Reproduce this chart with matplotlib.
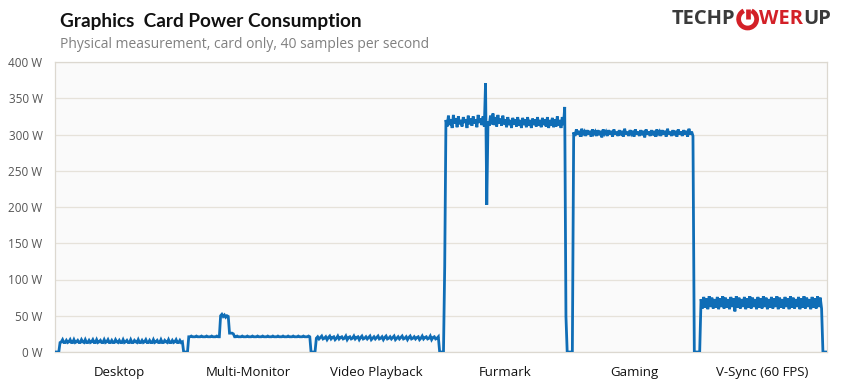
import numpy as np
import matplotlib
matplotlib.use("Agg")
import matplotlib.pyplot as plt
from matplotlib.patches import Arc

# ---------------- data ----------------
categories = ["Desktop", "Multi-Monitor", "Video Playback", "Furmark", "Gaming", "V-Sync (60 FPS)"]
y_ticks = [0, 50, 100, 150, 200, 250, 300, 350, 400]
y_tick_labels = ["0 W", "50 W", "100 W", "150 W", "200 W", "250 W", "300 W", "350 W", "400 W"]

desktop_w = [0, 0, 0, 0,
    13, 14, 17, 13, 13, 16, 13, 14, 17, 13, 13, 17, 13, 14, 16, 13, 13, 17, 14, 13,
    17, 13, 13, 16, 13, 14, 17, 13, 13, 17, 13, 14, 16, 13, 13, 17, 13, 14, 17, 13,
    13, 16, 13, 13, 17, 14, 13, 16, 13, 13, 17, 13, 14, 16, 13, 13, 17, 13, 13, 16,
    14, 13, 17, 13, 13, 16, 13, 14, 17, 13, 13, 16, 13, 13, 17, 13, 14, 16, 13, 13,
    17, 13, 13, 16, 14, 13, 17, 13, 13, 16, 13, 14, 17, 13, 13, 16, 13, 14]

multimon_w = [0, 0, 0, 0,
    21, 21, 22, 21, 21, 21, 22, 21, 21, 21, 22, 21, 21, 21, 22, 21, 21, 21, 22, 21,
    21, 21, 22, 21, 21,
    50, 52, 49, 51, 48, 50, 49,
    26, 26, 26, 25,
    21, 21, 22, 21, 21, 21, 22, 21, 21, 21, 22, 21, 21, 21, 22, 21, 21, 21, 22, 21,
    21, 21, 22, 21, 21, 21, 22, 21, 21, 21, 22, 21, 21, 21, 22, 21, 21, 21, 22, 21,
    21, 21, 22, 21, 21, 21, 22, 21, 21, 21, 22, 21, 21, 21, 22, 21, 21, 21, 22, 21,
    0]

video_w = [0, 0, 0,
    19, 21, 18, 20, 22, 18, 19, 21, 17, 20, 22, 18, 20, 21, 17, 19, 22, 18, 20, 21,
    18, 19, 22, 17, 20, 21, 18, 19, 22, 18, 20, 21, 17, 20, 22, 18, 19, 21, 18, 20,
    22, 17, 19, 21, 18, 20, 22, 18, 19, 21, 17, 20, 22, 18, 19, 21, 18, 20, 22, 17,
    19, 21, 18, 20, 22, 18, 19, 21, 17, 20, 22, 18, 19, 21, 18, 20, 21, 17, 19, 22,
    18, 20, 21, 18, 19, 22, 17, 20, 21, 18, 19, 21,
    0]

furmark_w = [0, 0, 0, 118,
    320, 311, 326, 313, 321, 309, 327, 315, 322, 310, 325, 314, 320, 311, 324, 316,
    321, 309, 326, 314, 322, 312, 325, 315, 321, 310, 327, 316, 322, 313, 325, 311,
    371, 203,
    318, 312, 326, 314, 329, 313, 324, 311, 327, 315, 322, 312, 326, 314, 321, 310,
    324, 313, 320, 309, 323, 314, 321, 311, 324, 312, 320, 309, 323, 313, 321, 310,
    324, 312, 320, 309, 322, 313, 321, 311, 324, 312, 320, 310, 323, 313, 321, 311,
    324, 309, 320, 312, 323, 310, 321, 311, 325, 312, 320, 309, 324, 313,
    338, 49, 0, 0]

gaming_w = [0, 0, 0,
    303, 298, 307, 300, 305, 297, 308, 301, 304, 298, 306, 300, 305, 297, 307, 301,
    304, 298, 306, 299, 305, 296, 307, 301, 304, 298, 306, 300, 305, 297, 307, 300,
    304, 298, 306, 299, 305, 297, 308, 300, 304, 298, 306, 301, 305, 297, 307, 300,
    304, 298, 306, 299, 305, 296, 307, 300, 304, 298, 306, 299, 305, 297, 307, 301,
    304, 298, 306, 300, 305, 297, 308, 300, 304, 298, 306, 299, 305, 297, 307, 300,
    304, 298, 306, 300, 305, 297, 308, 300, 304, 298,
    0, 0, 0]

vsync_w = [0, 0,
    73, 60, 76, 61, 74, 59, 77, 62, 75, 60, 73, 61, 76, 59, 74, 62, 77, 60,
    75, 61, 73, 59, 76, 62, 74, 56, 77, 61, 75, 60, 73, 62, 76, 59, 74, 61,
    77, 60, 75, 62, 73, 59, 76, 61, 74, 60, 77, 62, 75, 59, 73, 61, 76, 60,
    74, 62, 77, 59, 75, 61, 73, 60, 76, 62, 74, 59, 77, 61, 75, 60, 73, 62,
    76, 59, 74, 61, 77, 60, 75, 62, 73, 59, 76, 61, 74, 60, 77, 62, 75, 60,
    0, 0, 0]

segments = [desktop_w, multimon_w, video_w, furmark_w, gaming_w, vsync_w]

# ---------------- figure ----------------
W, H = 850, 390
fig = plt.figure(figsize=(W / 100, H / 100), dpi=100)
fig.patch.set_facecolor("white")
ax = fig.add_axes([55 / W, 38 / H, 772 / W, 290 / H])
ax.set_facecolor("#fafafa")

line_color = "#0f6db6"
xs, ys = [], []
for k, seg in enumerate(segments):
    n = len(seg)
    xs.extend(k + np.arange(n) / n)
    ys.extend(seg)
ax.plot(xs, ys, color=line_color, lw=2.0, solid_joinstyle="miter", zorder=3)

ax.set_xlim(0, len(categories))
ax.set_ylim(0, 400)
ax.set_yticks(y_ticks)
ax.set_yticklabels(y_tick_labels)
ax.set_xticks(np.arange(len(categories)) + 0.5)
ax.set_xticklabels(categories)
ax.tick_params(axis="y", length=0, pad=9, labelsize=8.5, labelcolor="#555555")
ax.tick_params(axis="x", length=0, pad=10, labelsize=9.5, labelcolor="#111111")
for lab in ax.get_yticklabels() + ax.get_xticklabels():
    lab.set_fontfamily("Open Sans")

ax.grid(axis="y", color="#e6e2da", lw=0.9, zorder=0)
ax.set_axisbelow(True)
for s in ax.spines.values():
    s.set_color("#dcd8d0")
    s.set_linewidth(0.9)

# titles
fig.text(60 / W, 1 - 22 / H, "Graphics  Card Power Consumption", fontsize=13.7,
         fontweight="bold", family="Lato", color="#111111", va="center", ha="left")
fig.text(60 / W, 1 - 45 / H, "Physical measurement, card only, 40 samples per second",
         fontsize=10, family="Open Sans", color="#808080", va="center", ha="left")

# logo
fig.canvas.draw()
renderer = fig.canvas.get_renderer()
logo_y = 1 - 19 / H
x0 = 672
fs_logo = 14.5
t1 = fig.text(x0 / W, logo_y, "TECHP", fontsize=fs_logo, fontweight="bold", family="Open Sans",
              color="#3a3a3a", va="center", ha="left")
bb = t1.get_window_extent(renderer)
cx = bb.x1 + 12
cy = logo_y * H
r = 9
ax_logo = fig.add_axes([(cx - 12) / W, (cy - 12) / H, 24 / W, 24 / H])
ax_logo.set_xlim(-12, 12)
ax_logo.set_ylim(-12, 12)
ax_logo.axis("off")
ax_logo.add_patch(Arc((0, 0), 2 * r, 2 * r, theta1=115, theta2=65, color="#d32027", lw=3.4))
ax_logo.plot([0, 0], [0, 10], color="#d32027", lw=3.4, solid_capstyle="butt")
t2 = fig.text((cx + 11.5) / W, logo_y, "WER", fontsize=fs_logo, fontweight="bold", family="Open Sans",
              color="#d32027", va="center", ha="left")
bb2 = t2.get_window_extent(renderer)
fig.text(bb2.x1 / W, logo_y, "UP", fontsize=fs_logo, fontweight="bold", family="Open Sans",
         color="#3a3a3a", va="center", ha="left")

fig.savefig("out.png", dpi=100, facecolor="white")
